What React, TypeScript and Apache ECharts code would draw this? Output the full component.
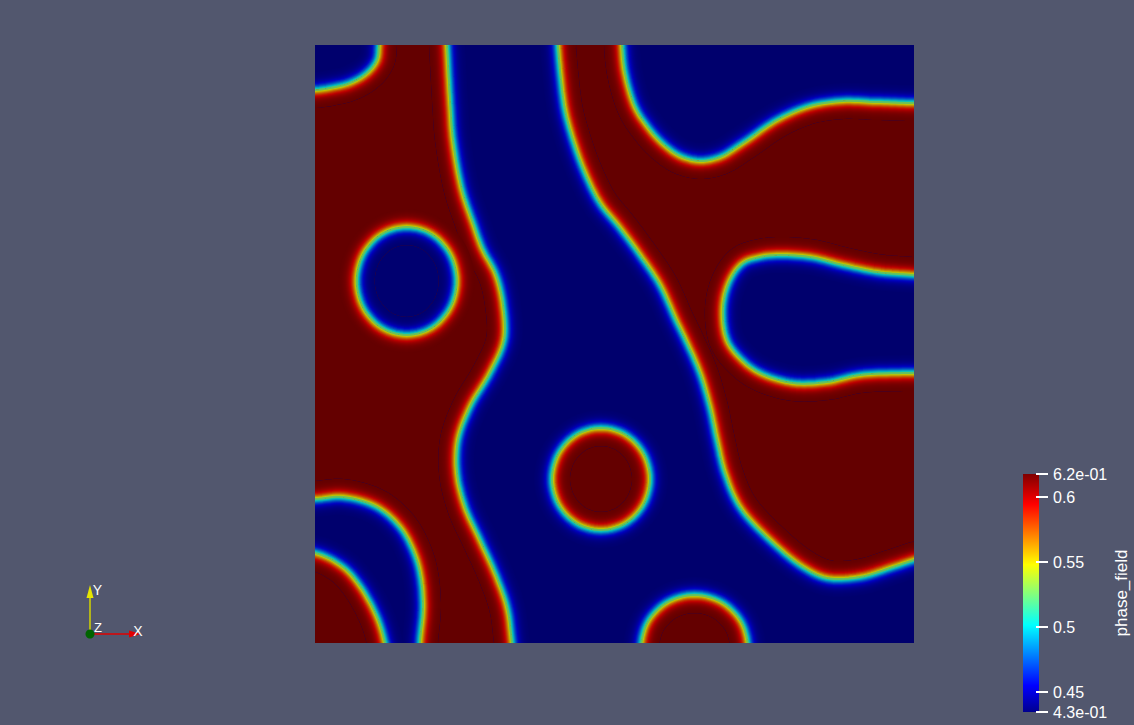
import React, { useEffect, useRef } from 'react';
import * as echarts from 'echarts';

// ---------- data (domain units, x to the right, y upwards) ----------
const DOMAIN_X = [0, 599];
const DOMAIN_Y = [0, 598];

// interface lines (phase_field = mid value); points outside the domain close each region
const REGION_LEFT: number[][] = [
  [66, 638], [130, 638], [132, 598], [135, 543], [138, 503], [147, 453], [158, 420], [167, 395],
  [181, 368], [188, 338], [189, 303], [175, 270], [155, 236], [143, 203], [142, 170], [150, 136],
  [165, 103], [180, 70], [192, 36], [197, 0], [201, -40], [105, -40], [105, 0], [108, 36],
  [105, 70], [98, 93], [85, 116], [62, 136], [28, 146], [0, 144], [-40, 144], [-40, 553],
  [0, 553], [15, 555], [35, 560], [52, 570], [62, 583], [64, 598],
];
const HOLE_LEFT: number[][] = [
  [141.7, 362], [135, 389], [116.7, 408.8], [91.7, 416], [66.7, 408.8], [48.4, 389],
  [41.7, 362], [48.4, 335], [66.7, 315.2], [91.7, 308], [116.7, 315.2], [135, 335],
];
const REGION_CORNER: number[][] = [
  [-40, 90], [0, 90], [28, 76], [45, 57], [62, 26], [70, 0], [77, -40], [-40, -40],
];
const DROP_CENTER: number[][] = [
  [335, 164], [328.4, 189.5], [310.5, 208.2], [286, 215], [261.5, 208.2], [243.6, 189.5],
  [237, 164], [243.6, 138.5], [261.5, 119.8], [286, 113], [310.5, 119.8], [328.4, 138.5],
];
const DROP_BOTTOM: number[][] = [
  [433.5, -6], [426.3, 21], [406.5, 40.8], [379.5, 48], [352.5, 40.8], [332.7, 21],
  [325.5, -6], [325.5, -40], [433.5, -40],
];
const REGION_RIGHT: number[][] = [
  [243, 598], [246, 563], [250, 533], [258, 503], [270, 470], [285, 440], [305, 415], [325, 388],
  [345, 358], [361, 323], [373, 298], [385, 270], [395, 236], [402, 203], [410, 170], [425, 136],
  [455, 103], [488, 76], [512, 65], [545, 66], [578, 76], [599, 83], [639, 95], [639, 270],
  [599, 270], [545, 268], [512, 261], [478, 260], [445, 270], [427, 283], [412, 303], [408, 336],
  [415, 363], [428, 380], [445, 386], [462, 388], [495, 386], [528, 378], [562, 371], [599, 368],
  [639, 366], [639, 540], [599, 540], [562, 541], [528, 542], [495, 537], [462, 523], [428, 500],
  [405, 486], [385, 482], [365, 487], [347, 500], [332, 517], [320, 536], [310, 570], [307, 598],
  [306, 638], [242, 638],
];

const SHAPES = [
  { pts: REGION_LEFT, phase: 'high' },
  { pts: HOLE_LEFT, phase: 'low' },
  { pts: REGION_CORNER, phase: 'high' },
  { pts: DROP_CENTER, phase: 'high' },
  { pts: DROP_BOTTOM, phase: 'high' },
  { pts: REGION_RIGHT, phase: 'high' },
];

const FIELD_MIN = 0.4345;
const FIELD_MAX = 0.6173;
const BAR_TICKS = [0.6, 0.55, 0.5, 0.45];
const BAR_TICK_LABELS = ['0.6', '0.55', '0.5', '0.45'];
const BAR_MAX_LABEL = '6.2e-01';
const BAR_MIN_LABEL = '4.3e-01';
const BAR_TITLE = 'phase_field';

// ---------- styles ----------
const BG = '#52576e';
const LIGHT = 0.76;
const W = 6.5; // interface half-width (px)
const K = 18;
const STEP = 4; // px between spline samples
const JET: [number, number[]][] = [
  [0, [0, 0, 0.5625]],
  [0.111111, [0, 0, 1]],
  [0.365079, [0, 1, 1]],
  [0.492063, [0.5, 1, 0.5]],
  [0.619048, [1, 1, 0]],
  [0.873016, [1, 0, 0]],
  [1, [0.5, 0, 0]],
];

function jet(t: number, light = 1): string {
  const tt = Math.max(0, Math.min(1, t));
  let i = 0;
  while (i < JET.length - 2 && tt > JET[i + 1][0]) i++;
  const [t0, c0] = JET[i];
  const [t1, c1] = JET[i + 1];
  const f = (tt - t0) / (t1 - t0);
  const c = c0.map((v, k) => Math.round((v + (c1[k] - v) * f) * 255 * light));
  return `rgb(${c[0]},${c[1]},${c[2]})`;
}

// closed centripetal Catmull-Rom curve through the contour points (pixel space)
function smoothLoop(pts: number[][]): number[][] {
  const out: number[][] = [];
  const N = pts.length;
  const kd = (a: number[], b: number[]) => Math.max(1e-4, Math.sqrt(Math.hypot(b[0] - a[0], b[1] - a[1])));
  for (let i = 0; i < N; i++) {
    const p0 = pts[(i - 1 + N) % N], p1 = pts[i], p2 = pts[(i + 1) % N], p3 = pts[(i + 2) % N];
    const t0 = 0, t1 = t0 + kd(p0, p1), t2 = t1 + kd(p1, p2), t3 = t2 + kd(p2, p3);
    const len = Math.hypot(p2[0] - p1[0], p2[1] - p1[1]);
    const n = Math.max(2, Math.ceil(len / STEP));
    for (let j = 0; j < n; j++) {
      const t = t1 + ((t2 - t1) * j) / n;
      const mix = (a: number[], b: number[], ta: number, tb: number) => {
        const u = (t - ta) / (tb - ta);
        return [a[0] + (b[0] - a[0]) * u, a[1] + (b[1] - a[1]) * u];
      };
      const A1 = mix(p0, p1, t0, t1);
      const A2 = mix(p1, p2, t1, t2);
      const A3 = mix(p2, p3, t2, t3);
      const B1 = mix(A1, A2, t0, t2);
      const B2 = mix(A2, A3, t1, t3);
      const C = mix(B1, B2, t1, t2);
      out.push([Math.round(C[0] * 10) / 10, Math.round(C[1] * 10) / 10]);
    }
  }
  return out;
}

export default function App() {
  const ref = useRef<HTMLDivElement>(null);
  useEffect(() => {
    if (!ref.current) return;
    const chart = echarts.init(ref.current, undefined, { renderer: 'svg' });

    const renderItem = (params: any, api: any) => {
      const s = SHAPES[params.dataIndex];
      const pts = smoothLoop(s.pts.map((p) => api.coord(p)));
      const sign = s.phase === 'high' ? 1 : -1;
      const col = (dIn: number) => jet(0.5 + 0.5 * sign * Math.tanh(dIn / W), LIGHT);
      const mk = () => ({ points: pts });
      const children: any[] = [];
      // core of the region first, so its anti-aliased edge is covered by the band layers
      children.push({ type: 'polygon', shape: mk(), silent: true, style: { fill: col(K), stroke: 'none' } });
      for (let k = K; k >= 1; k--) {
        children.push({
          type: 'polygon', shape: mk(), silent: true,
          style: { fill: 'none', stroke: col(-(k - 0.5)), lineWidth: 2 * k, lineJoin: 'round' },
        });
      }
      for (let k = K; k >= 1; k--) {
        children.push({
          type: 'polygon', shape: mk(), silent: true,
          style: { fill: 'none', stroke: col(k - 0.5), lineWidth: 2 * k, lineJoin: 'round' },
          clipPath: { type: 'polygon', shape: mk() },
        });
      }
      // mid-value line covering the clip seam
      children.push({
        type: 'polygon', shape: mk(), silent: true,
        style: { fill: 'none', stroke: col(0), lineWidth: 1.6, lineJoin: 'round' },
      });
      return { type: 'group', children };
    };

    // colour bar
    const barX = 1023, barY = 474, barW = 16, barH = 238;
    const vy = (v: number) => barY + ((FIELD_MAX - v) / (FIELD_MAX - FIELD_MIN)) * barH;
    const tickVals = [FIELD_MAX, ...BAR_TICKS, FIELD_MIN];
    const tickLabels = [BAR_MAX_LABEL, ...BAR_TICK_LABELS, BAR_MIN_LABEL];
    const font = (px: number) => `${px}px "Liberation Sans", Arial, sans-serif`;
    const graphic: any[] = [
      {
        type: 'rect', shape: { x: barX, y: barY, width: barW, height: barH },
        style: {
          fill: new echarts.graphic.LinearGradient(0, 1, 0, 0, JET.map(([t]) => ({ offset: t, color: jet(t) }))),
        },
      },
    ];
    tickVals.forEach((v, i) => {
      const y = Math.round(vy(v));
      graphic.push({ type: 'line', shape: { x1: 1036, y1: y, x2: 1048, y2: y }, style: { stroke: '#ffffff', lineWidth: 2 } });
      graphic.push({
        type: 'text', x: 1053, y,
        style: { text: tickLabels[i], fill: '#ffffff', font: font(16), verticalAlign: 'middle', align: 'left' },
      });
    });
    graphic.push({
      type: 'text', x: 1121, y: 593, rotation: Math.PI / 2,
      style: { text: BAR_TITLE, fill: '#ffffff', font: font(17), align: 'center', verticalAlign: 'middle' },
    });
    // orientation triad
    graphic.push(
      { type: 'line', shape: { x1: 90, y1: 634, x2: 90, y2: 596 }, style: { stroke: '#d4d400', lineWidth: 1.5 } },
      { type: 'polygon', shape: { points: [[86.5, 598], [93.5, 598], [90, 585]] }, style: { fill: '#e6e600' } },
      { type: 'line', shape: { x1: 90, y1: 634, x2: 131, y2: 634 }, style: { stroke: '#e00000', lineWidth: 1.5 } },
      { type: 'polygon', shape: { points: [[129, 630.5], [129, 637.5], [141, 634]] }, style: { fill: '#e00000' } },
      { type: 'circle', shape: { cx: 90, cy: 634, r: 4.5 }, style: { fill: '#006400' } },
      { type: 'text', x: 97.5, y: 590, style: { text: 'Y', fill: '#ffffff', font: font(14), align: 'center', verticalAlign: 'middle' } },
      { type: 'text', x: 138, y: 630.5, style: { text: 'X', fill: '#ffffff', font: font(14), align: 'center', verticalAlign: 'middle' } },
      { type: 'text', x: 98, y: 627, style: { text: 'Z', fill: '#ffffff', font: font(13), align: 'center', verticalAlign: 'middle' } },
    );

    chart.setOption({
      animation: false,
      backgroundColor: BG,
      grid: { left: 315, top: 45, width: 599, height: 598, show: true, backgroundColor: jet(0, LIGHT), borderWidth: 0 },
      xAxis: { type: 'value', min: DOMAIN_X[0], max: DOMAIN_X[1], show: false },
      yAxis: { type: 'value', min: DOMAIN_Y[0], max: DOMAIN_Y[1], show: false },
      series: [
        {
          type: 'custom', coordinateSystem: 'cartesian2d', clip: true, silent: true,
          data: SHAPES.map((_, i) => [i, 0]),
          renderItem,
        },
      ],
      graphic,
    });
    return () => chart.dispose();
  }, []);
  return <div ref={ref} style={{ position: 'fixed', left: 0, top: 0, width: 1134, height: 725 }} />;
}
